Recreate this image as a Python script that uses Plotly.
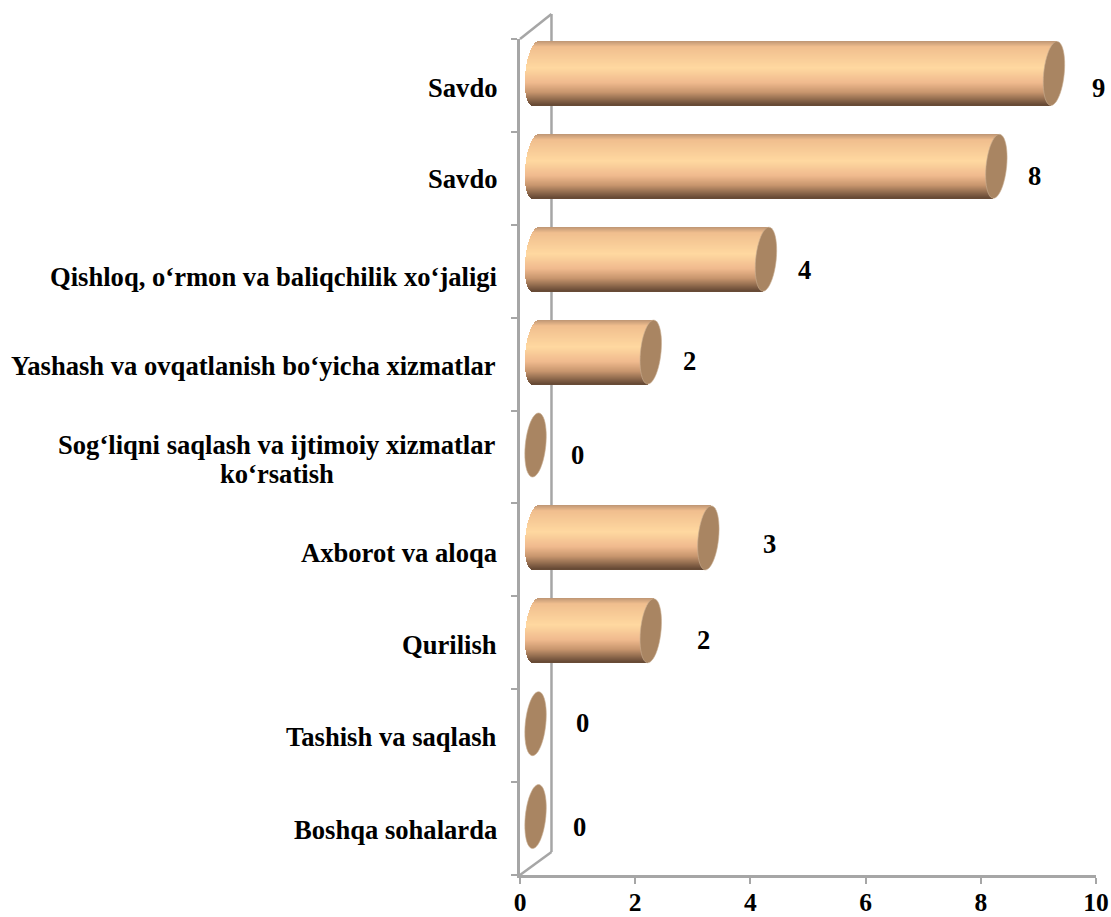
import math
import plotly.graph_objects as go

categories = [
    "Savdo",
    "Savdo",
    "Qishloq, o‘rmon va baliqchilik xo‘jaligi",
    "Yashash va ovqatlanish bo‘yicha xizmatlar",
    "Sog‘liqni saqlash va ijtimoiy xizmatlar<br>ko‘rsatish",
    "Axborot va aloqa",
    "Qurilish",
    "Tashish va saqlash",
    "Boshqa sohalarda",
]
values = [9, 8, 4, 2, 0, 3, 2, 0, 0]
x_ticks = [0, 2, 4, 6, 8, 10]

# label nudges in pixels (hand-moved in the original chart)
value_xshift = [60, 54, 54, 54, 57, 77, 68, 62, 59]
value_yshift = [-2.5, 2.5, 1.5, 3, 2.5, 5.5, 2.5, 12.5, 1.5]
cat_yshift = [-2.5, -0.5, -5.5, -2, -2.5, -3.5, -2.5, -1.5, -1.5]
cat_right_px = [498, 498, 498, 497, 497, 498, 498, 498, 498]
LINE_GAP_PX = 29          # baseline gap of the wrapped label
WRAP_CENTER_PX = 276      # centre of the second line of the wrapped label

# layout constants
W, H = 1111, 917
L, R, T, B = 519.5, 1096.0, 39.0, 875.0
pw, ph = R - L, B - T
px_x = pw / 10.0
px_y = ph / len(categories)
GREY = "#A6A6A6"
FONT = "Liberation Serif"
DEPTH_X = 0.27            # 3D depth offset, axis units
SEMI_X = 10.3 / px_x      # ellipse half-width
SHEAR = 3.0 / px_x        # ellipse tilt
BAR_H = 64.0 / px_y
SHIFT_Y = -12.0 / px_y
N = 64
STOPS = [(0.0, (190, 150, 116)), (0.09, (240, 190, 142)), (0.42, (255, 216, 160)),
         (0.65, (240, 186, 142)), (0.8, (200, 150, 110)), (1.0, (100, 72, 52))]


def shade(t):
    for (a, ca), (b, cb) in zip(STOPS, STOPS[1:]):
        if t <= b:
            f = (t - a) / (b - a)
            return "rgb(%d,%d,%d)" % tuple(round(p + (q - p) * f) for p, q in zip(ca, cb))
    return "rgb(%d,%d,%d)" % STOPS[-1][1]


centers = [i + 0.5 for i in range(len(categories))]
fig = go.Figure()

# cylinder body: thin overlaid bars give the vertical gradient and rounded left end
for k in range(N):
    t0 = k / N
    tm = (k + 0.5) / N
    u = 2 * tm - 1
    arc = SEMI_X * math.sqrt(max(0, 1 - u * u))
    start = DEPTH_X - arc - SHEAR * u
    lengths = [(v + arc) if v > 0 else 0 for v in values]
    strip = BAR_H / N
    fig.add_trace(go.Bar(
        orientation="h",
        y=centers,
        x=lengths,
        base=start,
        width=strip * 1.6 if k < N - 1 else strip,
        offset=SHIFT_Y - BAR_H / 2 + t0 * BAR_H,
        marker=dict(color=shade(tm), line=dict(width=0)),
        hoverinfo="skip",
        showlegend=False,
    ))

shapes = []


def paper_x(px):
    return (px - L) / pw


def paper_y(px):
    return (B - px) / ph


# walls of the 3D frame
for (x0, y0, x1, y1) in [
    (L, 39, 551, 14),
    (551, 14, 551, 852),
    (L, 875, 551, 852),
]:
    shapes.append(dict(type="line", xref="paper", yref="paper", layer="below",
                       x0=paper_x(x0), y0=paper_y(y0), x1=paper_x(x1), y1=paper_y(y1),
                       line=dict(color=GREY, width=2.5)))

# tilted elliptical end caps
for c, v in zip(centers, values):
    pts = []
    for j in range(49):
        a = 2 * math.pi * j / 48
        u = math.sin(a)
        ex = v + DEPTH_X + SEMI_X * math.cos(a) - SHEAR * u
        ey = c + SHIFT_Y + BAR_H / 2 * u
        pts.append(f"{ex:.4f},{ey:.4f}")
    shapes.append(dict(type="path", xref="x", yref="y", layer="above",
                       path="M " + " L ".join(pts) + " Z",
                       fillcolor="#A98562", line=dict(color="#C9AE92", width=0.6)))

annotations = []
label_font = dict(family=FONT, size=26.6, color="black", weight="bold")
for c, name, dy, rx in zip(centers, categories, cat_yshift, cat_right_px):
    lines = name.split("<br>")
    top = dy + (len(lines) - 1) * LINE_GAP_PX / 2
    for n, line in enumerate(lines):
        annotations.append(dict(
            xref="paper", yref="y",
            x=paper_x(rx if n == 0 else WRAP_CENTER_PX), y=c, yshift=top - n * LINE_GAP_PX,
            xanchor="right" if n == 0 else "center", yanchor="middle",
            text=line, showarrow=False, font=label_font))
for c, v, dx, dy in zip(centers, values, value_xshift, value_yshift):
    annotations.append(dict(xref="x", yref="y", x=v, y=c, xshift=dx, yshift=dy,
                            xanchor="center", yanchor="middle",
                            text=str(v), showarrow=False, font=label_font))

fig.update_layout(
    width=W, height=H, autosize=False,
    margin=dict(l=L, r=W - R, t=T, b=H - B, pad=0),
    paper_bgcolor="white", plot_bgcolor="rgba(0,0,0,0)",
    barmode="overlay", bargap=0,
    showlegend=False,
    shapes=shapes, annotations=annotations,
    xaxis=dict(range=[0, 10], tickvals=x_ticks, ticks="outside", ticklen=6, tickwidth=2,
               tickcolor=GREY, showline=True, linecolor=GREY, linewidth=2.5, showgrid=False,
               zeroline=False, automargin=False, ticklabelstandoff=-3,
               tickfont=dict(family=FONT, size=25.5, color="black", weight="bold")),
    yaxis=dict(range=[len(categories), 0], tickvals=list(range(len(categories) + 1)),
               ticktext=[""] * (len(categories) + 1), ticks="outside", ticklen=6, tickwidth=2,
               tickcolor=GREY, showline=True, linecolor=GREY, linewidth=2.5, showgrid=False,
               zeroline=False, automargin=False),
)

fig.write_html("out.html", config=dict(displayModeBar=False),
               post_script="document.body.style.margin='0';document.documentElement.style.overflow='hidden';")
